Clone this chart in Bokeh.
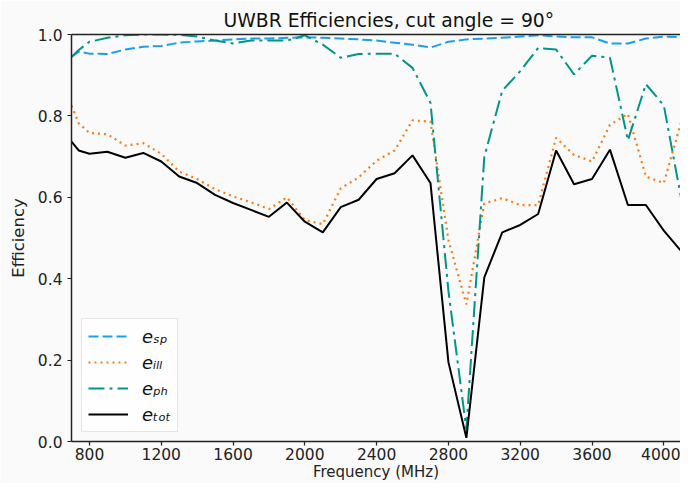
from bokeh.plotting import figure
from bokeh.models import (ColumnDataSource, Legend, LegendItem, LinearAxis, FixedTicker,
                          Range1d, NumeralTickFormatter)
from bokeh.embed import file_html
from bokeh.resources import INLINE

freq = [700, 740, 800, 900, 1000, 1100, 1200, 1300, 1400, 1500, 1600, 1700, 1800, 1900,
        2000, 2100, 2200, 2300, 2400, 2500, 2600, 2700, 2800, 2900, 3000, 3100, 3200,
        3300, 3400, 3500, 3600, 3700, 3800, 3900, 4000, 4100, 4200]
e_sp = [0.945, 0.958, 0.953, 0.952, 0.963, 0.970, 0.972, 0.980, 0.983, 0.985, 0.988, 0.990,
        0.990, 0.992, 0.993, 0.992, 0.990, 0.988, 0.985, 0.980, 0.975, 0.968, 0.982, 0.988,
        0.990, 0.992, 0.995, 0.998, 0.995, 0.993, 0.993, 0.978, 0.978, 0.990, 0.995, 0.993, 0.990]
e_ill = [0.825, 0.782, 0.758, 0.755, 0.727, 0.733, 0.707, 0.663, 0.645, 0.620, 0.602, 0.588,
         0.571, 0.600, 0.544, 0.534, 0.622, 0.649, 0.690, 0.715, 0.789, 0.786, 0.495, 0.337,
         0.585, 0.598, 0.581, 0.581, 0.746, 0.704, 0.688, 0.778, 0.805, 0.651, 0.635, 0.790, 0.700]
e_ph = [0.945, 0.962, 0.982, 0.992, 0.998, 1.0, 1.0, 0.999, 0.995, 0.985, 0.978, 0.985,
        0.985, 0.985, 0.998, 0.975, 0.943, 0.952, 0.953, 0.953, 0.918, 0.832, 0.37, 0.03,
        0.70, 0.862, 0.91, 0.967, 0.963, 0.902, 0.948, 0.943, 0.74, 0.878, 0.826, 0.59, 0.79]
e_tot = [0.737, 0.715, 0.707, 0.712, 0.697, 0.709, 0.688, 0.651, 0.635, 0.606, 0.586, 0.569,
         0.552, 0.587, 0.540, 0.514, 0.576, 0.594, 0.645, 0.659, 0.703, 0.635, 0.195, 0.009,
         0.403, 0.514, 0.532, 0.559, 0.715, 0.632, 0.645, 0.717, 0.581, 0.581, 0.518, 0.466, 0.540]
x_ticks = [800, 1200, 1600, 2000, 2400, 2800, 3200, 3600, 4000]
y_ticks = [0.0, 0.2, 0.4, 0.6, 0.8, 1.0]
labels = ["e\u209b\u209a", "e\u1d62\u2097\u2097", "e\u209a\u2095", "e\u209c\u2092\u209c"]

FONT = "DejaVu Sans"
BG = "#fafafa"

src = ColumnDataSource(dict(f=freq, sp=e_sp, ill=e_ill, ph=e_ph, tot=e_tot))

p = figure(width=680, height=483, output_backend="svg", toolbar_location=None,
           x_range=Range1d(700, 4093), y_range=Range1d(0, 1.0),
           min_border_left=71, min_border_right=0, min_border_top=34, min_border_bottom=10,
           background_fill_color=BG, border_fill_color=BG)
p.outline_line_color = None
p.grid.visible = False

p.title.text = "UWBR Efficiencies, cut angle = 90\u00b0"
p.title.text_font = FONT
p.title.text_font_size = "18.8px"
p.title.text_font_style = "normal"
p.title.align = "left"
p.title.offset = 152
p.title.standoff = 7
p.title.text_color = "#111111"

l1 = p.line("f", "sp", source=src, line_color="#1a9ff0", line_width=2, line_dash="10 4")
l2 = p.line("f", "ill", source=src, line_color="#ff7b0f", line_width=2.2, line_dash="2 4")
l3 = p.line("f", "ph", source=src, line_color="#009587", line_width=2, line_dash="16 5 3 5")
l4 = p.line("f", "tot", source=src, line_color="black", line_width=2)

for ax in (p.xaxis[0], p.yaxis[0]):
    ax.axis_line_width = 1.5
    ax.axis_line_color = "#222222"
    ax.major_tick_line_color = "#222222"
    ax.major_tick_line_width = 1.2
    ax.major_tick_in = 0
    ax.major_tick_out = 4
    ax.minor_tick_line_color = None
    ax.major_label_text_font = FONT
    ax.major_label_text_font_size = "15.5px"
    ax.major_label_text_color = "#222222"
    ax.axis_label_text_font = FONT
    ax.axis_label_text_font_size = "15px"
    ax.axis_label_text_font_style = "normal"
    ax.axis_label_text_color = "#222222"

p.yaxis[0].axis_label_text_font_size = "16.5px"
p.xaxis[0].ticker = FixedTicker(ticks=x_ticks)
p.yaxis[0].ticker = FixedTicker(ticks=y_ticks)
p.yaxis[0].formatter = NumeralTickFormatter(format="0.0")
p.xaxis[0].axis_label = "Frequency (MHz)"
p.yaxis[0].axis_label = "Efficiency"
p.xaxis[0].major_label_standoff = 2
p.xaxis[0].axis_label_standoff = 0
p.yaxis[0].major_label_standoff = 5
p.yaxis[0].axis_label_standoff = 7

top = LinearAxis(ticker=FixedTicker(ticks=[]), axis_line_width=1.5, axis_line_color="#222222",
                 major_tick_line_color=None, minor_tick_line_color=None,
                 major_label_text_font_size="0px")
p.add_layout(top, "above")

legend = Legend(items=[LegendItem(label=labels[0], renderers=[l1]),
                       LegendItem(label=labels[1], renderers=[l2]),
                       LegendItem(label=labels[2], renderers=[l3]),
                       LegendItem(label=labels[3], renderers=[l4])],
                location=(10, 9), margin=0, padding=6, spacing=4,
                glyph_width=40, glyph_height=22, label_standoff=14,
                label_text_font=FONT, label_text_font_size="18px", label_text_font_style="italic",
                label_text_color="#111111",
                border_line_color="#cccccc", border_line_width=1.2,
                background_fill_color="white", background_fill_alpha=0.8)
p.add_layout(legend)

open("out.html", "w").write(file_html(p, INLINE))
